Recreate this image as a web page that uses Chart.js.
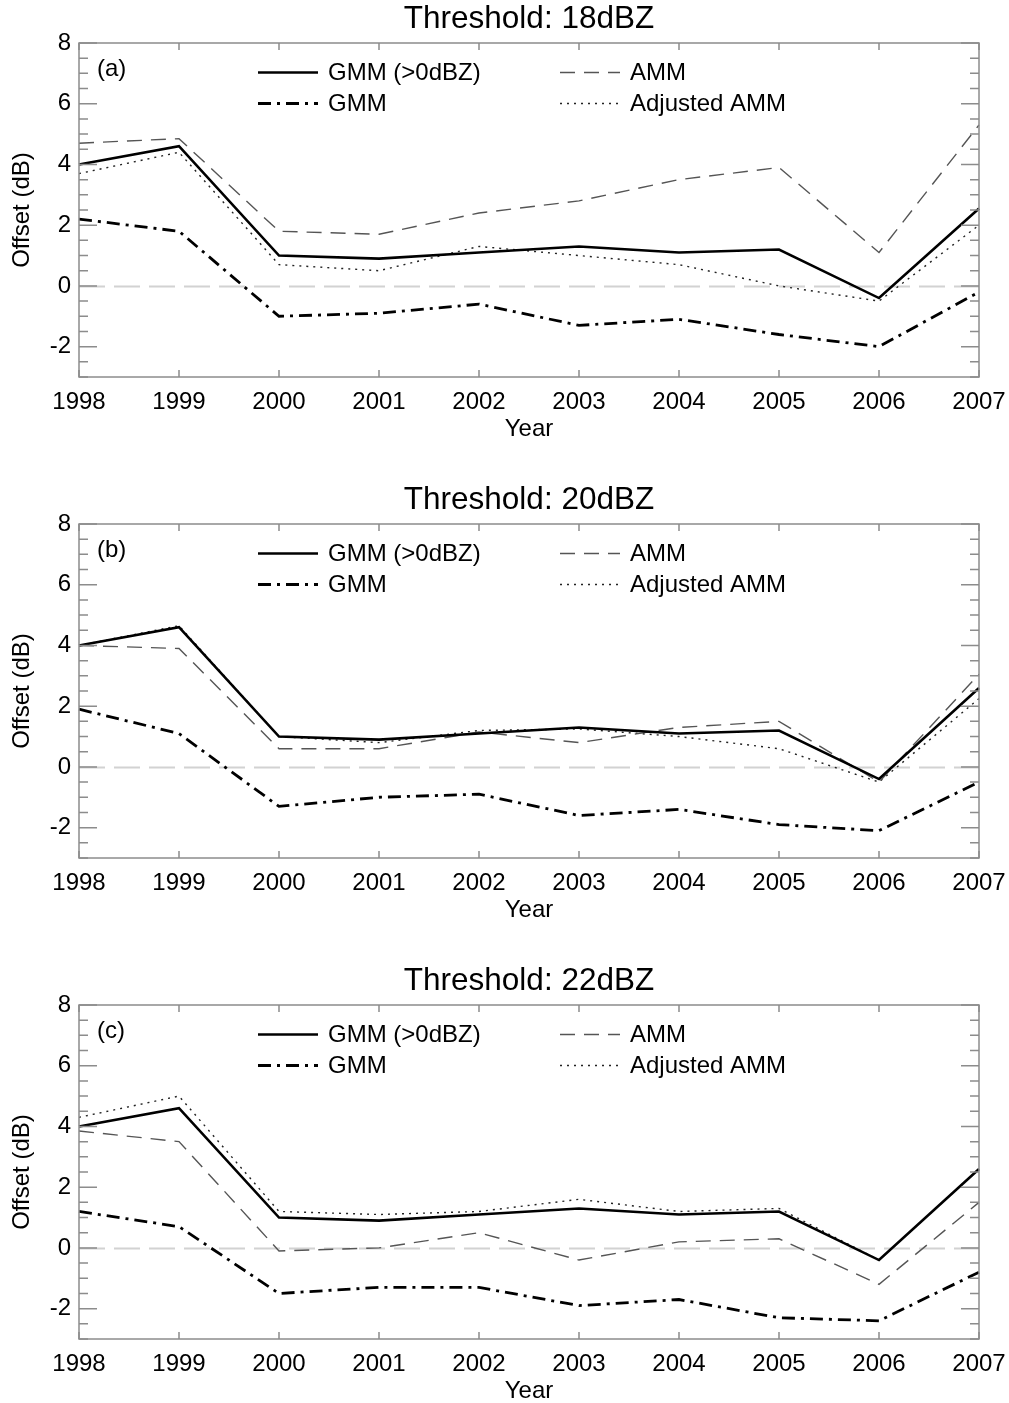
<!DOCTYPE html>
<html>
<head>
<meta charset="utf-8">
<script src="https://cdn.jsdelivr.net/npm/chart.js@4.4.1/dist/chart.umd.min.js"></script>
<style>
html, body { margin: 0; padding: 0; background: #fff; overflow: hidden; }
canvas { display: block; }
</style>
</head>
<body>
<canvas id="c18" width="1009" height="481"></canvas>
<canvas id="c20" width="1009" height="481"></canvas>
<canvas id="c22" width="1009" height="481"></canvas>
<script>
var years = ['1998', '1999', '2000', '2001', '2002', '2003', '2004', '2005', '2006', '2007'];
var yTicks = [-2, 0, 2, 4, 6, 8];
var seriesNames = ['GMM (>0dBZ)', 'GMM', 'AMM', 'Adjusted AMM'];

// Threshold 18dBZ
var gmm0_18 = [4.0, 4.6, 1.0, 0.9, 1.1, 1.3, 1.1, 1.2, -0.4, 2.55];
var gmm_18  = [2.2, 1.8, -1.0, -0.9, -0.6, -1.3, -1.1, -1.6, -2.0, -0.2];
var amm_18  = [4.7, 4.85, 1.8, 1.7, 2.4, 2.8, 3.5, 3.9, 1.1, 5.3];
var adj_18  = [3.7, 4.4, 0.7, 0.5, 1.3, 1.0, 0.7, 0.0, -0.5, 2.0];

// Threshold 20dBZ
var gmm0_20 = [4.0, 4.6, 1.0, 0.9, 1.1, 1.3, 1.1, 1.2, -0.4, 2.6];
var gmm_20  = [1.9, 1.1, -1.3, -1.0, -0.9, -1.6, -1.4, -1.9, -2.1, -0.5];
var amm_20  = [4.0, 3.9, 0.6, 0.6, 1.15, 0.8, 1.3, 1.5, -0.5, 3.05];
var adj_20  = [4.0, 4.65, 1.0, 0.8, 1.2, 1.25, 1.0, 0.6, -0.5, 2.25];

// Threshold 22dBZ
var gmm0_22 = [4.0, 4.6, 1.0, 0.9, 1.1, 1.3, 1.1, 1.2, -0.4, 2.6];
var gmm_22  = [1.2, 0.7, -1.5, -1.3, -1.3, -1.9, -1.7, -2.3, -2.4, -0.8];
var amm_22  = [3.85, 3.5, -0.1, 0.0, 0.5, -0.4, 0.2, 0.3, -1.2, 1.5];
var adj_22  = [4.3, 5.0, 1.2, 1.1, 1.2, 1.6, 1.2, 1.3, -0.4, 2.6];

var FONT = '"Liberation Sans", Arial, Helvetica, sans-serif';
var AXIS = '#8c8c8c';

// frame, inward ticks, zero line, title, panel letter and legend
var decor = {
    id: 'decor',
    beforeDatasetsDraw: function(chart) {
        var ctx = chart.ctx, a = chart.chartArea, y = chart.scales.y;
        var y0 = Math.round(y.getPixelForValue(0)) + 0.5;
        ctx.save();
        ctx.strokeStyle = '#d2d2d2';
        ctx.lineWidth = 2;
        ctx.setLineDash([26, 9]);
        ctx.beginPath();
        ctx.moveTo(a.left, y0);
        ctx.lineTo(a.right, y0);
        ctx.stroke();
        ctx.restore();
    },
    afterDatasetsDraw: function(chart) {
        var ctx = chart.ctx, a = chart.chartArea;
        var x = chart.scales.x, y = chart.scales.y;
        var o = chart.options.plugins.decor;
        ctx.save();
        ctx.strokeStyle = AXIS;
        ctx.lineWidth = 1.5;
        ctx.strokeRect(a.left, a.top, a.right - a.left, a.bottom - a.top);
        ctx.beginPath();
        for (var v = -3; v <= 8; v += 0.5) {
            var py = y.getPixelForValue(v);
            var len = (v % 2 === 0) ? 18 : 9;
            ctx.moveTo(a.left, py); ctx.lineTo(a.left + len, py);
            ctx.moveTo(a.right, py); ctx.lineTo(a.right - len, py);
        }
        for (var i = 0; i < years.length; i++) {
            var px = x.getPixelForValue(i);
            ctx.moveTo(px, a.bottom); ctx.lineTo(px, a.bottom - 7);
            ctx.moveTo(px, a.top); ctx.lineTo(px, a.top + 7);
        }
        ctx.stroke();

        ctx.fillStyle = '#000';
        ctx.textBaseline = 'middle';
        ctx.textAlign = 'center';
        ctx.font = '31.5px ' + FONT;
        ctx.fillText(o.title, (a.left + a.right) / 2, 19);

        ctx.textAlign = 'left';
        ctx.font = '24px ' + FONT;
        ctx.fillText(o.letter, a.left + 18, a.top + 26);

        var slots = [[258, 0], [258, 1], [560, 0], [560, 1]];
        chart.data.datasets.forEach(function(ds, k) {
            var lx = slots[k][0], ly = a.top + 29.5 + slots[k][1] * 31;
            ctx.save();
            ctx.strokeStyle = ds.borderColor;
            ctx.lineWidth = ds.borderWidth;
            ctx.setLineDash(ds.borderDash || []);
            ctx.beginPath();
            ctx.moveTo(lx, ly); ctx.lineTo(lx + 60, ly);
            ctx.stroke();
            ctx.restore();
            ctx.fillText(ds.label, lx + 70, ly + 1);
        });
        ctx.restore();
    }
};

function makePanel(id, title, letter, s1, s2, s3, s4) {
    new Chart(document.getElementById(id), {
        type: 'line',
        data: {
            labels: years,
            datasets: [
                { label: seriesNames[0], data: s1, borderColor: '#000', borderWidth: 2.6 },
                { label: seriesNames[1], data: s2, borderColor: '#000', borderWidth: 2.8, borderDash: [13, 6, 3, 6] },
                { label: seriesNames[2], data: s3, borderColor: '#555', borderWidth: 1.4, borderDash: [15, 9] },
                { label: seriesNames[3], data: s4, borderColor: '#222', borderWidth: 1.4, borderDash: [2, 5] }
            ]
        },
        options: {
            responsive: false,
            animation: false,
            devicePixelRatio: 1,
            layout: { padding: { top: 43, right: 30, left: 0, bottom: 0 } },
            elements: {
                line: { tension: 0, fill: false },
                point: { radius: 0 }
            },
            scales: {
                x: {
                    type: 'category',
                    offset: false,
                    grid: { display: false, drawTicks: false },
                    border: { display: false },
                    ticks: { color: '#000', font: { family: FONT, size: 24 }, padding: 11, maxRotation: 0, autoSkip: false },
                    title: { display: true, text: 'Year', color: '#000', font: { family: FONT, size: 24 }, padding: { top: 0, bottom: 37 } },
                    afterFit: function(s) { s.height = 104; s.paddingLeft = 0; s.paddingRight = 0; }
                },
                y: {
                    type: 'linear',
                    min: -3,
                    max: 8,
                    grid: { display: false, drawTicks: false },
                    border: { display: false },
                    afterBuildTicks: function(s) { s.ticks = yTicks.map(function(v) { return { value: v }; }); },
                    ticks: { color: '#000', font: { family: FONT, size: 24 }, padding: 8 },
                    title: { display: true, text: 'Offset (dB)', color: '#000', font: { family: FONT, size: 24 }, padding: { top: 8, bottom: 0 } },
                    afterFit: function(s) { s.width = 79; s.paddingTop = 0; s.paddingBottom = 0; }
                }
            },
            plugins: {
                legend: { display: false },
                tooltip: { enabled: false },
                decor: { title: title, letter: letter }
            }
        },
        plugins: [decor]
    });
}

makePanel('c18', 'Threshold: 18dBZ', '(a)', gmm0_18, gmm_18, amm_18, adj_18);
makePanel('c20', 'Threshold: 20dBZ', '(b)', gmm0_20, gmm_20, amm_20, adj_20);
makePanel('c22', 'Threshold: 22dBZ', '(c)', gmm0_22, gmm_22, amm_22, adj_22);
</script>
</body>
</html>
